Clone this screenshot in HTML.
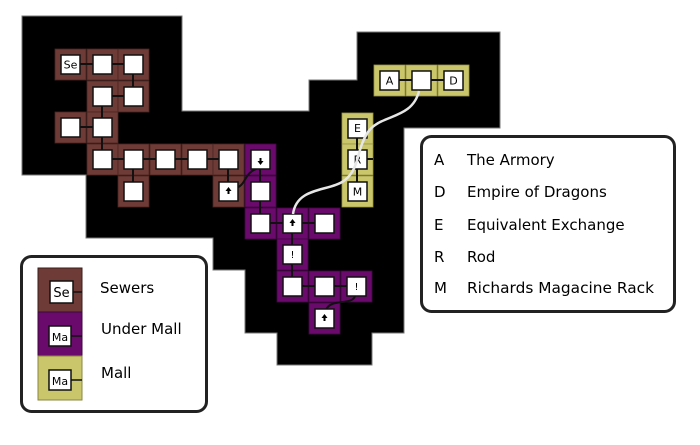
<!DOCTYPE html>
<html><head><meta charset="utf-8"><style>
html,body{margin:0;padding:0;background:#fff;width:700px;height:445px;overflow:hidden}
svg{display:block}
text{font-family:"DejaVu Sans","Liberation Sans",sans-serif;fill:#000}
</style></head><body>
<svg width="700" height="445" viewBox="0 0 700 445" xmlns="http://www.w3.org/2000/svg">
<defs>
<g id="b"><rect x="0" y="0" width="31" height="31" fill="#6e3b36" stroke="#4a2622" stroke-width="0.8"/></g>
<g id="p"><rect x="0" y="0" width="31" height="31" fill="#6a0a6c" stroke="#450545" stroke-width="0.8"/></g>
<g id="y"><rect x="0" y="0" width="31" height="31" fill="#c9c66b" stroke="#9a9748" stroke-width="0.8"/></g>
<g id="w"><rect x="6" y="6" width="19" height="19" fill="#fff" stroke="#111" stroke-width="1.5"/></g>
</defs>
<polygon fill="#000" stroke="#777" stroke-width="1" points="22,16 182,16 182,111 309,111 309,80 357,80 357,32 500,32 500,128 404,128 404,333 372,333 372,365 277,365 277,333 245,333 245,270 213,270 213,238 86,238 86,175 22,175"/>
<!-- tiles -->
<g>
<use href="#b" x="55" y="49"/><use href="#b" x="87" y="49"/><use href="#b" x="118" y="49"/>
<use href="#b" x="87" y="81"/><use href="#b" x="118" y="81"/>
<use href="#b" x="55" y="112"/><use href="#b" x="87" y="112"/>
<use href="#b" x="87" y="144"/><use href="#b" x="118" y="144"/><use href="#b" x="150" y="144"/><use href="#b" x="182" y="144"/><use href="#b" x="213" y="144"/>
<use href="#b" x="118" y="176"/><use href="#b" x="213" y="176"/>
<use href="#p" x="245" y="144"/><use href="#p" x="245" y="176"/><use href="#p" x="245" y="208"/><use href="#p" x="277" y="208"/><use href="#p" x="309" y="208"/>
<use href="#p" x="277" y="239"/><use href="#p" x="277" y="271"/><use href="#p" x="309" y="271"/><use href="#p" x="341" y="271"/><use href="#p" x="309" y="303"/>
<use href="#y" x="342" y="113"/><use href="#y" x="342" y="144"/><use href="#y" x="342" y="176"/>
<use href="#y" x="374" y="65"/><use href="#y" x="406" y="65"/><use href="#y" x="438" y="65"/>
</g>
<!-- connectors -->
<g stroke="#111" stroke-width="2" fill="none">
<path d="M70 64H133V96H102V159H228V191"/>
<path d="M70 127H102"/><path d="M133 159V191"/>
<path d="M260 159V223H324"/><path d="M292 223V286H356"/>
<path d="M357 128V191M357 159H373"/>
<path d="M389 80H453"/>
<path d="M235 188C247 186 243 172 259 168"/>
<path d="M355 296C352 306 330 298 326 310"/>
</g>
<!-- boxes -->
<g>
<use href="#w" x="55" y="49"/><use href="#w" x="87" y="49"/><use href="#w" x="118" y="49"/>
<use href="#w" x="87" y="81"/><use href="#w" x="118" y="81"/>
<use href="#w" x="55" y="112"/><use href="#w" x="87" y="112"/>
<use href="#w" x="87" y="144"/><use href="#w" x="118" y="144"/><use href="#w" x="150" y="144"/><use href="#w" x="182" y="144"/><use href="#w" x="213" y="144"/>
<use href="#w" x="118" y="176"/><use href="#w" x="213" y="176"/>
<use href="#w" x="245" y="144"/><use href="#w" x="245" y="176"/><use href="#w" x="245" y="208"/><use href="#w" x="277" y="208"/><use href="#w" x="309" y="208"/>
<use href="#w" x="277" y="239"/><use href="#w" x="277" y="271"/><use href="#w" x="309" y="271"/><use href="#w" x="341" y="271"/><use href="#w" x="309" y="303"/>
<use href="#w" x="342" y="113"/><use href="#w" x="342" y="144"/><use href="#w" x="342" y="176"/>
<use href="#w" x="374" y="65"/><use href="#w" x="406" y="65"/><use href="#w" x="438" y="65"/>
</g>
<!-- box labels -->
<g font-size="11" text-anchor="middle">
<text x="70.5" y="68.5">Se</text>
<text x="357.5" y="132">E</text><text x="357.5" y="163.5">R</text><text x="357.5" y="195.5">M</text>
<text x="389.5" y="84.5">A</text><text x="453.5" y="84.5">D</text>
<text x="292.5" y="258" font-size="10">!</text><text x="356.5" y="290" font-size="10">!</text>
</g>
<g fill="#000">
<path d="M260.5 165 l-3 -4 h2 v-3 h2 v3 h2 z"/>
<path d="M228.5 187 l-3 4 h2 v3 h2 v-3 h2 z"/>
<path d="M292.5 219 l-3 4 h2 v3 h2 v-3 h2 z"/>
<path d="M324.5 314 l-3 4 h2 v3 h2 v-3 h2 z"/>
</g>
<path d="M293 214C297 186 330 192 345 180S356 150 368 132S412 120 419 91" stroke="#e6e6e6" stroke-width="2.5" fill="none"/>
<!-- right legend -->
<rect x="421.5" y="136.5" width="253" height="175" rx="10" fill="#fff" stroke="#222" stroke-width="3"/>
<g font-size="15">
<text x="434" y="165">A</text><text x="467" y="165">The Armory</text>
<text x="434" y="197">D</text><text x="467" y="197">Empire of Dragons</text>
<text x="434" y="230">E</text><text x="467" y="230">Equivalent Exchange</text>
<text x="434" y="262">R</text><text x="467" y="262">Rod</text>
<text x="434" y="293">M</text><text x="467" y="293" textLength="187" lengthAdjust="spacingAndGlyphs">Richards Magacine Rack</text>
</g>
<!-- left legend -->
<rect x="21.5" y="256.5" width="185" height="155" rx="10" fill="#fff" stroke="#222" stroke-width="3"/>
<rect x="38" y="268" width="44" height="44" fill="#6e3b36" stroke="#3a1e1a"/>
<rect x="38" y="312" width="44" height="44" fill="#6a0a6c" stroke="#3a0a3a"/>
<rect x="38" y="356" width="44" height="44" fill="#c9c66b" stroke="#8a8740"/>
<g stroke="#111" stroke-width="1.5">
<path d="M73 292H82M71 336H82M71 380H82"/>
<rect x="50" y="281" width="23" height="22" fill="#fff"/>
<rect x="49" y="326" width="22" height="20" fill="#fff"/>
<rect x="49" y="370" width="22" height="20" fill="#fff"/>
</g>
<text x="61.5" y="297" font-size="13" text-anchor="middle">Se</text>
<text x="60" y="341" font-size="11" text-anchor="middle">Ma</text>
<text x="60" y="385" font-size="11" text-anchor="middle">Ma</text>
<g font-size="15">
<text x="100" y="293">Sewers</text>
<text x="101" y="334">Under Mall</text>
<text x="101" y="378">Mall</text>
</g>
</svg>
</body></html>
